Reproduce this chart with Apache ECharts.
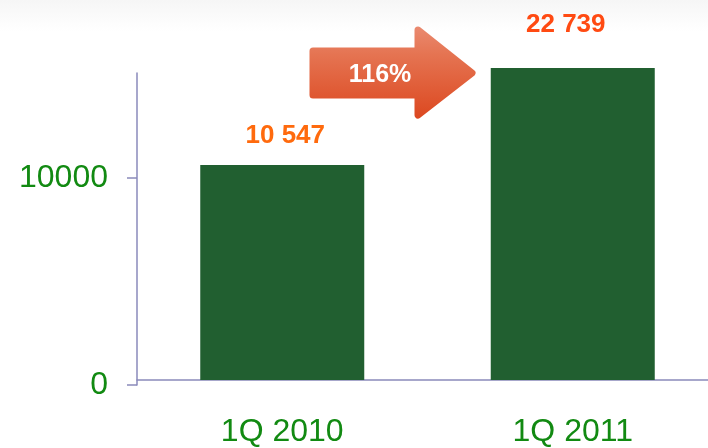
<!DOCTYPE html>
<html>
<head>
<meta charset="utf-8">
<script src="https://cdn.jsdelivr.net/npm/echarts@6/dist/echarts.min.js"></script>
<style>
html,body{margin:0;padding:0;background:#fff;overflow:hidden;width:708px;height:448px;}
#chart{width:730px;height:448px;}
</style>
</head>
<body>
<div id="chart"></div>
<script>
// ---- data ----
var categories = ['1Q 2010', '1Q 2011'];
var values = [10547, 22739];
var yTicks = [0, 10000];
var growthLabel = '116%';

var labelColors = ['#ff6a0d', '#ff4a12'];
var labelDistances = [16, 30];
var labelOffsets = [[3, 0], [-7, 0]];

function fmt(v) {
  return String(v).replace(/\B(?=(\d{3})+(?!\d))/g, ' ');
}

var chart = echarts.init(document.getElementById('chart'), null, {renderer: 'canvas'});
var FONT = '"Liberation Sans", Arial, sans-serif';
var axisColor = '#8a8abb';
var green = '#128a12';

var option = {
  animation: false,
  backgroundColor: {
    type: 'linear', x: 0, y: 0, x2: 0, y2: 1,
    colorStops: [{offset: 0, color: '#f6f6f6'}, {offset: 0.07, color: '#ffffff'}, {offset: 1, color: '#ffffff'}]
  },
  grid: [
    {left: 137, width: 581, top: 68, bottom: 63},
    {left: 137, width: 581, top: 73, bottom: 63}
  ],
  xAxis: [
    {
      type: 'category', gridIndex: 0, data: categories,
      axisLine: {show: true, lineStyle: {color: axisColor, width: 1.5}},
      axisTick: {show: false},
      axisLabel: {color: green, fontSize: 32, fontFamily: FONT, margin: 36}
    },
    {
      type: 'category', gridIndex: 1, data: categories, show: false
    }
  ],
  yAxis: [
    {type: 'value', gridIndex: 0, min: 0, max: 15314, show: false},
    {
      type: 'value', gridIndex: 1, min: 0, max: 15072,
      axisLine: {show: true, lineStyle: {color: axisColor, width: 1.5}},
      axisTick: {show: true, inside: false, length: 10, customValues: yTicks, lineStyle: {color: axisColor, width: 1.5}},
      axisLabel: {color: green, fontSize: 32, fontFamily: FONT, margin: 29, customValues: yTicks,
        formatter: function (v) { return String(v); }},
      splitLine: {show: false}
    }
  ],
  series: [{
    type: 'bar',
    xAxisIndex: 0, yAxisIndex: 0,
    barWidth: 164,
    clip: true,
    itemStyle: {color: '#215f30'},
    data: values.map(function (v, i) {
      return {
        value: v,
        label: {
          show: true, position: 'top', distance: labelDistances[i], offset: labelOffsets[i],
          color: labelColors[i], fontSize: 26, fontWeight: 'bold', fontFamily: FONT,
          formatter: function (p) { return fmt(p.value); }
        }
      };
    })
  }],
  graphic: [{
    type: 'group',
    children: [
      {
        type: 'polygon',
        shape: {points: [[313, 51], [418, 51], [418, 30], [472, 73], [418, 115], [418, 95], [313, 95]]},
        style: {
          fill: {type: 'linear', x: 0, y: 0, x2: 0, y2: 1,
            colorStops: [{offset: 0, color: '#ea8a70'}, {offset: 0.3, color: '#e57452'}, {offset: 1, color: '#dc4820'}]},
          stroke: {type: 'linear', x: 0, y: 0, x2: 0, y2: 1,
            colorStops: [{offset: 0, color: '#ea8a70'}, {offset: 0.3, color: '#e57452'}, {offset: 1, color: '#dc4820'}]},
          lineWidth: 7, lineJoin: 'round'
        }
      },
      {
        type: 'text',
        x: 380, y: 75,
        style: {
          text: growthLabel, fill: '#ffffff', fontSize: 25, fontWeight: 'bold', fontFamily: FONT,
          align: 'center', verticalAlign: 'middle'
        }
      }
    ]
  }]
};
chart.setOption(option);
</script>
</body>
</html>
